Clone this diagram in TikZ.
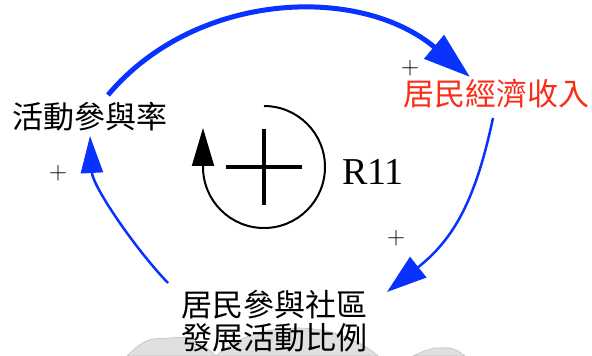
\documentclass[tikz,border=0pt]{standalone}
\usepackage{fontspec}
\newfontfamily\cjk{Noto Sans CJK TC}
\newfontfamily\latserif{Liberation Serif}
\usetikzlibrary{arrows.meta}
\definecolor{cldblue}{RGB}{10,50,255}
\definecolor{cldred}{RGB}{250,45,25}
\definecolor{blobfill}{RGB}{224,224,224}
\definecolor{blobline}{RGB}{190,190,190}
\tikzset{
  var/.style={inner sep=0pt, font=\cjk\fontsize{31}{33}\selectfont, align=center},
  pol/.style={inner sep=0pt, font=\fontsize{25}{25}\selectfont},
  link/.style={draw=cldblue, line width=2.5pt},
  blob/.style={fill=blobfill, draw=blobline, line width=0.6pt}
}
\begin{document}
\begin{tikzpicture}[x=1pt,y=1pt]
\useasboundingbox (0,0) rectangle (592,356);
% background blobs (cut off at bottom)
\path[blob] (127,0) .. controls (135,8) and (142,14) .. (152,17) -- (185,19) .. controls (200,14) and (210,6) .. (216,0) -- cycle;
\path[blob] (216,0) .. controls (240,22) and (270,28) .. (298,28) .. controls (330,28) and (360,16) .. (378,0) -- cycle;
\path[blob] (413,0) -- (424,5) -- (434,8) -- (450,8) -- (458,5) -- (465,0) -- cycle;
% variables
\node[var] (act) at (90,239) {活動參與率};
\node[var, text=cldred] (inc) at (496,262) {居民經濟收入};
\node[var] (bot) at (274,35) {居民參與社區\\發展活動比例};
% links
\draw[link, line width=5pt, -{Triangle[length=47pt,width=30pt]}]
  ([shift={(18,22)}]act.center) .. controls +(50:135) and +(140:145) .. ([shift={(-26,17)}]inc.center);
\draw[link, -{Triangle[length=40pt,width=26pt]}]
  ([shift={(-3,-24)}]inc.center) .. controls +(-102:85) and +(38.5:85) .. ([shift={(113,29)}]bot.center);
\draw[link, -{Triangle[length=37pt,width=22pt]}]
  ([shift={(-106,38)}]bot.center) .. controls +(133.7:50) and +(-87:50) .. ([shift={(0,-19)}]act.center);
% polarities
\node[pol] (p1) at (410,288) {+};
\node[pol] (p2) at (396,118) {+};
\node[pol] (p3) at (58,183) {+};
% loop symbol
\coordinate (lc) at (264,189);
\draw[line width=2pt, -{Triangle[length=38pt,width=22pt]}]
  ([yshift=61]lc) arc[start angle=90, end angle=-180, radius=61] -- ++(0,39);
\draw[line width=4pt] ([xshift=-38]lc) -- ([xshift=38]lc);
\draw[line width=4pt] ([yshift=-38]lc) -- ([yshift=38]lc);
\node[inner sep=0pt, font=\latserif\fontsize{38}{38}\selectfont] (r11) at (373,184) {R11};
\end{tikzpicture}
\end{document}
